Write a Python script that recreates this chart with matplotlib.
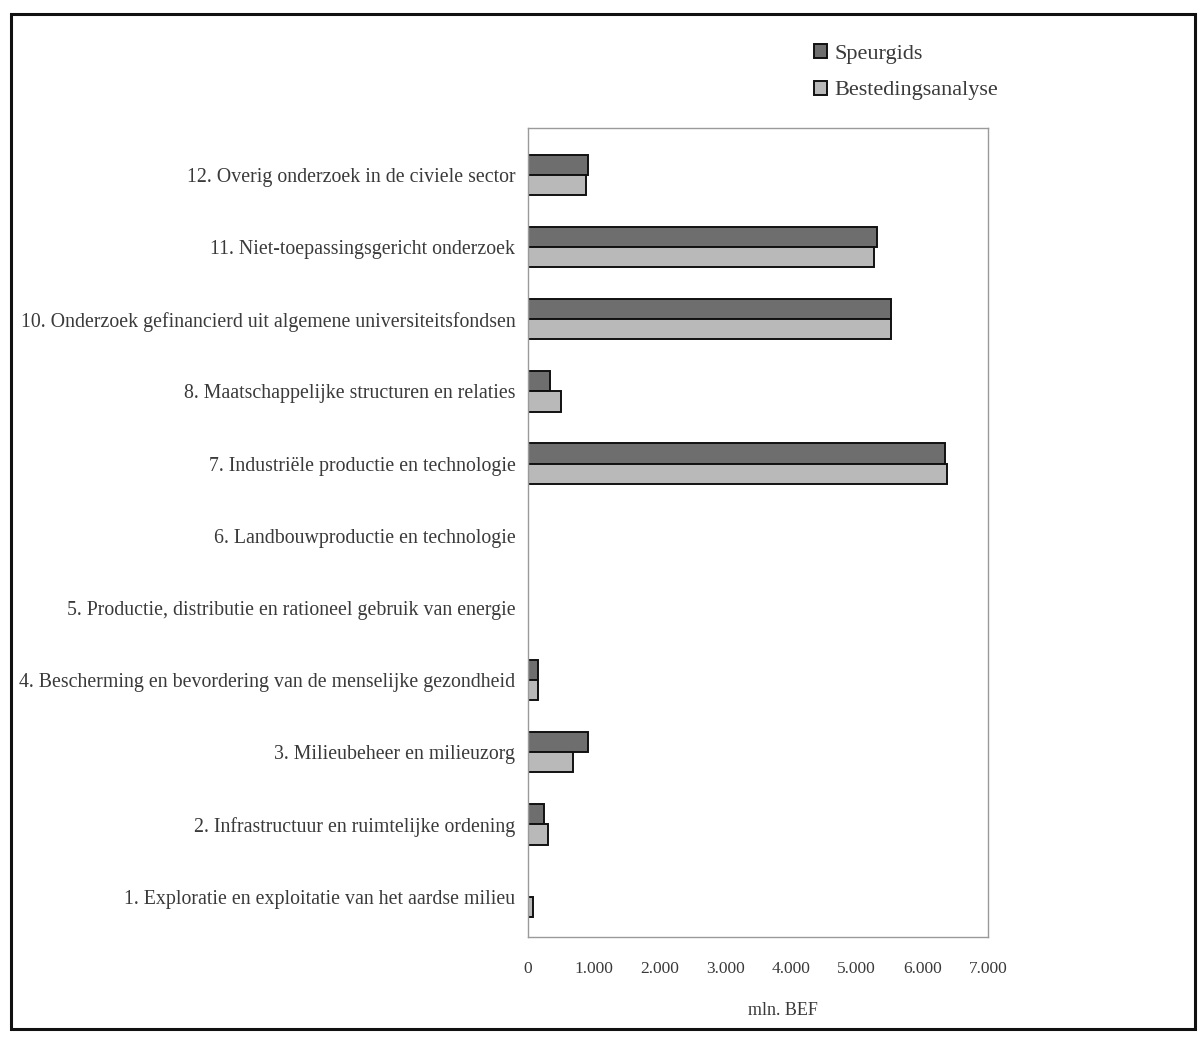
import matplotlib
matplotlib.use("Agg")
import matplotlib.pyplot as plt
import numpy as np
from matplotlib.patches import Rectangle
from matplotlib.ticker import FuncFormatter

categories = [
    "1. Exploratie en exploitatie van het aardse milieu",
    "2. Infrastructuur en ruimtelijke ordening",
    "3. Milieubeheer en milieuzorg",
    "4. Bescherming en bevordering van de menselijke gezondheid",
    "5. Productie, distributie en rationeel gebruik van energie",
    "6. Landbouwproductie en technologie",
    "7. Industriële productie en technologie",
    "8. Maatschappelijke structuren en relaties",
    "10. Onderzoek gefinancierd uit algemene universiteitsfondsen",
    "11. Niet-toepassingsgericht onderzoek",
    "12. Overig onderzoek in de civiele sector",
]
speurgids = [0, 250, 910, 150, 0, 0, 6350, 330, 5520, 5310, 920]
bestedingsanalyse = [80, 310, 680, 150, 0, 0, 6380, 500, 5520, 5260, 880]
xticks = [0, 1000, 2000, 3000, 4000, 5000, 6000, 7000]
series_names = ["Speurgids", "Bestedingsanalyse"]

plt.rcParams['font.family'] = ['Liberation Serif', 'DejaVu Serif']
txt = '#3a3a3a'

fig = plt.figure(figsize=(12.03, 10.39), dpi=100)
ax = fig.add_axes([528/1203, 1-937/1039, (988-528)/1203, (937-128)/1039])

y = np.arange(len(categories))
h = 0.28
ax.barh(y + h/2, speurgids, height=h, color='#6e6e6e', edgecolor='#111111',
        linewidth=1.4, label=series_names[0])
ax.barh(y - h/2, bestedingsanalyse, height=h, color='#b9b9b9', edgecolor='#111111',
        linewidth=1.4, label=series_names[1])

ax.set_xlim(0, 7000)
ax.set_ylim(-0.56, len(categories) - 1 + 0.65)
ax.set_yticks(y)
ax.set_yticklabels(categories, fontsize=14.3, color=txt)
ax.set_xticks(xticks)
ax.xaxis.set_major_formatter(FuncFormatter(lambda v, p: f"{int(v):,}".replace(",", ".")))
ax.tick_params(axis='x', length=0, pad=17, labelsize=12.5, labelcolor=txt)
ax.tick_params(axis='y', length=0, pad=9)
for s in ax.spines.values():
    s.set_color('#9a9a9a')
    s.set_linewidth(1.0)
ax.set_xlabel("mln. BEF", fontsize=13, color=txt)
ax.xaxis.set_label_coords((783-528)/460, -(1002-937)/809, transform=ax.transAxes)

leg = fig.legend(loc='upper left', bbox_to_anchor=(794/1203, 1-24/1039), frameon=False,
                 fontsize=16, handlelength=0.6, handleheight=0.6, handletextpad=0.3,
                 labelspacing=0.75, labelcolor=txt)

fig.patches.append(Rectangle((11/1203, 1-1029/1039), (1195-11)/1203, (1029-14)/1039,
                             transform=fig.transFigure, fill=False, edgecolor='#111111',
                             linewidth=2.2))

fig.savefig("out.png", dpi=100, facecolor='white')
